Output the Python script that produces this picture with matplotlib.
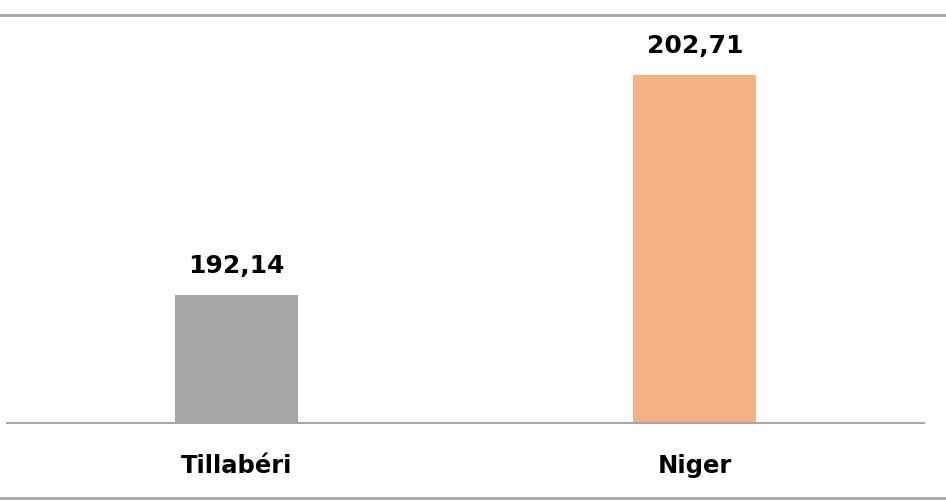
import matplotlib
matplotlib.use("Agg")
import matplotlib.pyplot as plt
from matplotlib.lines import Line2D

categories = ["Tillabéri", "Niger"]
values = [192.14, 202.71]
labels = ["192,14", "202,71"]
colors = ["#A5A5A5", "#F4B183"]

W, H = 946, 501
fig = plt.figure(figsize=(W / 100, H / 100), dpi=100)
ax = fig.add_axes([7 / W, 1 - 423 / H, (924 - 7) / W, (423 - 6) / H])

ymin = 186
x = list(range(len(categories)))
ax.bar(x, [v - ymin for v in values], bottom=ymin, width=0.268, color=colors)
ax.set_xlim(-0.5, 1.5)
ax.set_ylim(ymin, 206)

for xi, v, lab in zip(x, values, labels):
    ax.annotate(lab, (xi, v), xytext=(0, 12), textcoords="offset points",
                ha="center", va="bottom", fontsize=18, fontweight="bold",
                family="DejaVu Sans", color="#000000")

for s in ["top", "right", "left"]:
    ax.spines[s].set_visible(False)
ax.spines["bottom"].set_color("#A6A6A6")
ax.spines["bottom"].set_linewidth(1.5)
ax.set_yticks([])
ax.set_xticks(x)
ax.set_xticklabels(categories, fontsize=17.5, fontweight="bold", family="DejaVu Sans")
ax.tick_params(axis="x", length=0, pad=22)

for yy in [15, 498]:
    fig.add_artist(Line2D([0, 1], [1 - yy / H, 1 - yy / H], color="#A6A6A6", lw=2,
                          transform=fig.transFigure))

fig.savefig("out.png", dpi=100, facecolor="white")
